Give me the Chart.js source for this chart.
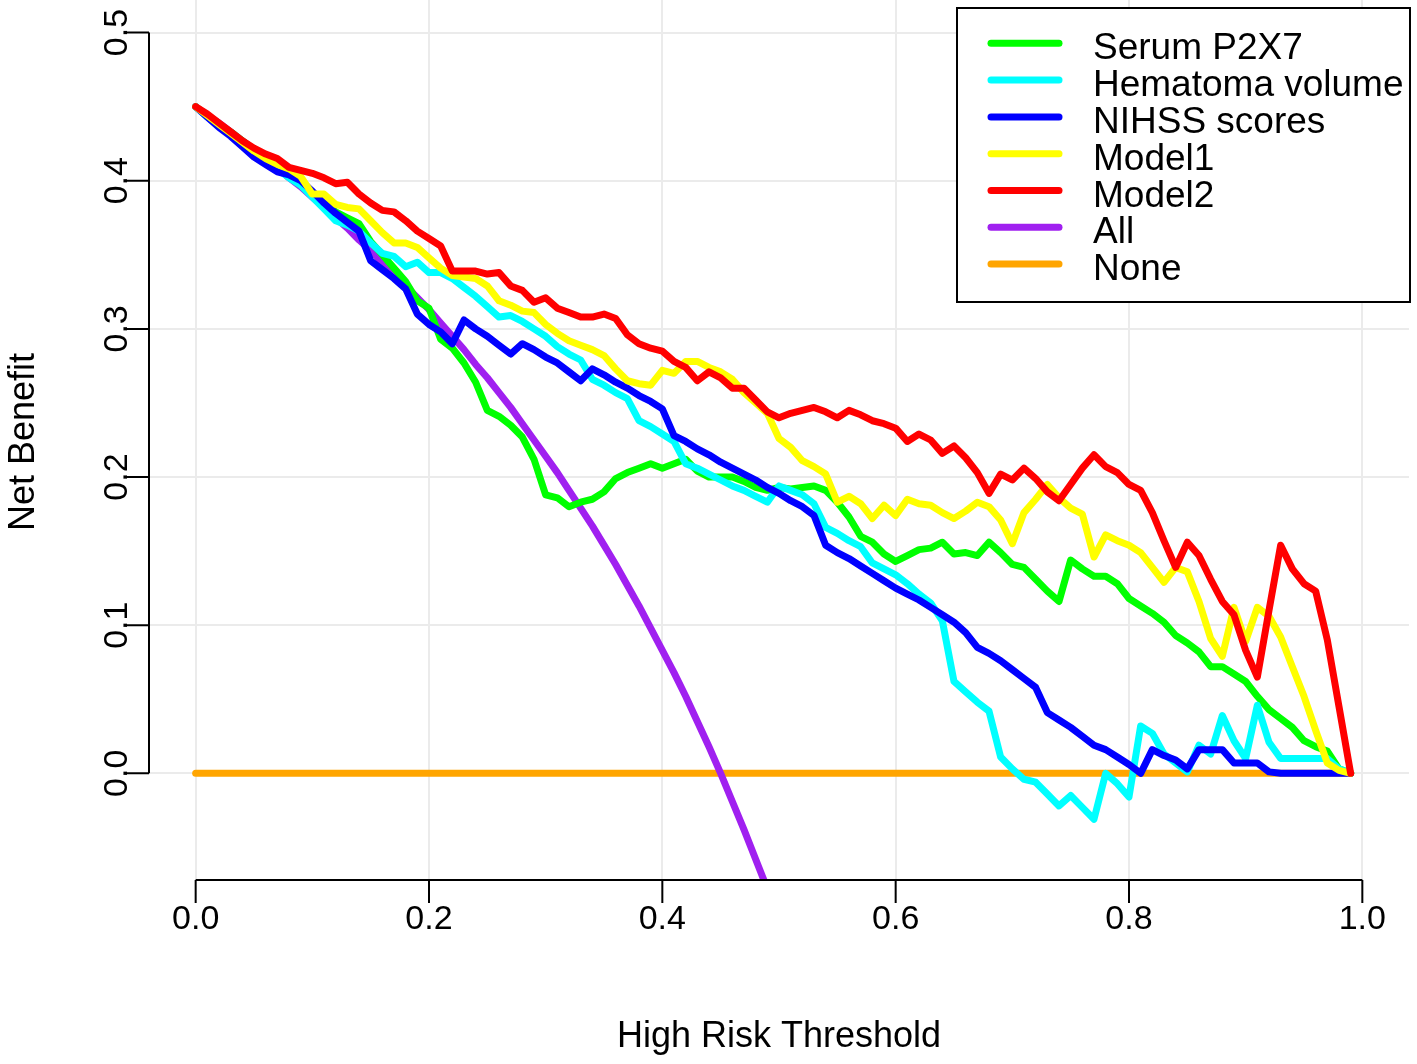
<!DOCTYPE html>
<html>
<head>
<meta charset="utf-8">
<title>Decision curve - Net Benefit</title>
<script src="https://cdn.jsdelivr.net/npm/chart.js@4.4.1/dist/chart.umd.min.js"></script>
<style>
    html, body { margin: 0; padding: 0; background: #ffffff; }
    #wrap { width: 1417px; height: 1064px; position: relative; }
</style>
</head>
<body>
<div id="wrap"><canvas id="dcaChart"></canvas></div>
<script>
// Threshold probabilities (x values of every curve)
const thresholds = [
    0.00, 0.01, 0.02, 0.03, 0.04, 0.05, 0.06, 0.07, 0.08, 0.09,
    0.10, 0.11, 0.12, 0.13, 0.14, 0.15, 0.16, 0.17, 0.18, 0.19,
    0.20, 0.21, 0.22, 0.23, 0.24, 0.25, 0.26, 0.27, 0.28, 0.29,
    0.30, 0.31, 0.32, 0.33, 0.34, 0.35, 0.36, 0.37, 0.38, 0.39,
    0.40, 0.41, 0.42, 0.43, 0.44, 0.45, 0.46, 0.47, 0.48, 0.49,
    0.50, 0.51, 0.52, 0.53, 0.54, 0.55, 0.56, 0.57, 0.58, 0.59,
    0.60, 0.61, 0.62, 0.63, 0.64, 0.65, 0.66, 0.67, 0.68, 0.69,
    0.70, 0.71, 0.72, 0.73, 0.74, 0.75, 0.76, 0.77, 0.78, 0.79,
    0.80, 0.81, 0.82, 0.83, 0.84, 0.85, 0.86, 0.87, 0.88, 0.89,
    0.90, 0.91, 0.92, 0.93, 0.94, 0.95, 0.96, 0.97, 0.98, 0.99
];

// Net benefit
const serumP2X7 = [
    0.450, 0.444, 0.438, 0.433, 0.427, 0.421, 0.415, 0.409, 0.403, 0.397,
    0.390, 0.385, 0.379, 0.375, 0.371, 0.359, 0.350, 0.341, 0.332, 0.319,
    0.314, 0.293, 0.287, 0.277, 0.264, 0.245, 0.241, 0.235, 0.227, 0.212,
    0.188, 0.186, 0.180, 0.183, 0.185, 0.190, 0.199, 0.203, 0.206, 0.209,
    0.206, 0.209, 0.212, 0.204, 0.200, 0.200, 0.200, 0.197, 0.193, 0.191,
    0.193, 0.192, 0.193, 0.194, 0.191, 0.183, 0.173, 0.160, 0.156, 0.148,
    0.143, 0.147, 0.151, 0.152, 0.156, 0.148, 0.149, 0.147, 0.156, 0.149,
    0.141, 0.139, 0.131, 0.123, 0.116, 0.144, 0.138, 0.133, 0.133, 0.128,
    0.118, 0.113, 0.108, 0.102, 0.093, 0.088, 0.082, 0.072, 0.072, 0.067,
    0.062, 0.052, 0.043, 0.037, 0.031, 0.022, 0.018, 0.015, 0.003, 0.000
];

const hematomaVolume = [
    0.450, 0.443, 0.437, 0.431, 0.425, 0.419, 0.413, 0.408, 0.402, 0.397,
    0.389, 0.381, 0.373, 0.370, 0.366, 0.358, 0.351, 0.349, 0.342, 0.345,
    0.338, 0.338, 0.334, 0.328, 0.322, 0.315, 0.308, 0.309, 0.305, 0.300,
    0.295, 0.288, 0.283, 0.279, 0.266, 0.262, 0.257, 0.253, 0.238, 0.234,
    0.229, 0.224, 0.209, 0.206, 0.202, 0.198, 0.194, 0.191, 0.187, 0.183,
    0.194, 0.191, 0.188, 0.182, 0.166, 0.162, 0.157, 0.153, 0.142, 0.138,
    0.134, 0.128, 0.121, 0.115, 0.103, 0.062, 0.055, 0.048, 0.042, 0.011,
    0.003, -0.004, -0.006, -0.014, -0.022, -0.015, -0.023, -0.031, 0.000, -0.007,
    -0.016, 0.032, 0.027, 0.013, 0.007, 0.001, 0.019, 0.013, 0.039, 0.022,
    0.010, 0.046, 0.021, 0.010, 0.010, 0.010, 0.010, 0.010, 0.003, 0.000
];

const nihssScores = [
    0.450, 0.443, 0.436, 0.430, 0.423, 0.416, 0.411, 0.406, 0.404, 0.400,
    0.393, 0.385, 0.378, 0.372, 0.366, 0.346, 0.340, 0.334, 0.327, 0.310,
    0.303, 0.298, 0.290, 0.306, 0.300, 0.295, 0.289, 0.283, 0.290, 0.286,
    0.281, 0.277, 0.271, 0.265, 0.273, 0.269, 0.264, 0.260, 0.255, 0.251,
    0.246, 0.228, 0.224, 0.219, 0.215, 0.210, 0.206, 0.202, 0.198, 0.193,
    0.189, 0.184, 0.180, 0.174, 0.154, 0.149, 0.145, 0.140, 0.135, 0.130,
    0.125, 0.121, 0.117, 0.112, 0.107, 0.102, 0.095, 0.085, 0.081, 0.076,
    0.070, 0.064, 0.058, 0.041, 0.036, 0.031, 0.025, 0.019, 0.016, 0.011,
    0.006, 0.000, 0.016, 0.012, 0.009, 0.003, 0.016, 0.016, 0.016, 0.007,
    0.007, 0.007, 0.001, 0.000, 0.000, 0.000, 0.000, 0.000, 0.000, 0.000
];

const model1 = [
    0.450, 0.444, 0.438, 0.432, 0.426, 0.420, 0.415, 0.411, 0.408, 0.403,
    0.391, 0.391, 0.384, 0.382, 0.381, 0.373, 0.365, 0.358, 0.358, 0.355,
    0.348, 0.341, 0.336, 0.335, 0.334, 0.329, 0.319, 0.316, 0.312, 0.311,
    0.303, 0.297, 0.292, 0.289, 0.286, 0.282, 0.273, 0.265, 0.263, 0.262,
    0.272, 0.270, 0.278, 0.278, 0.274, 0.271, 0.266, 0.257, 0.250, 0.243,
    0.226, 0.220, 0.211, 0.207, 0.202, 0.183, 0.187, 0.182, 0.172, 0.181,
    0.174, 0.185, 0.182, 0.181, 0.176, 0.172, 0.177, 0.183, 0.180, 0.171,
    0.155, 0.176, 0.185, 0.195, 0.186, 0.179, 0.175, 0.146, 0.161, 0.157,
    0.154, 0.149, 0.139, 0.129, 0.139, 0.136, 0.116, 0.091, 0.079, 0.112,
    0.089, 0.112, 0.106, 0.092, 0.072, 0.052, 0.029, 0.007, 0.002, 0.000
];

const model2 = [
    0.450, 0.445, 0.439, 0.433, 0.427, 0.422, 0.418, 0.415, 0.409, 0.407,
    0.405, 0.402, 0.398, 0.399, 0.391, 0.385, 0.380, 0.379, 0.373, 0.366,
    0.361, 0.356, 0.339, 0.339, 0.339, 0.337, 0.338, 0.329, 0.326, 0.318,
    0.321, 0.314, 0.311, 0.308, 0.308, 0.310, 0.307, 0.296, 0.290, 0.287,
    0.285, 0.278, 0.274, 0.265, 0.271, 0.267, 0.260, 0.260, 0.252, 0.244,
    0.240, 0.243, 0.245, 0.247, 0.244, 0.240, 0.245, 0.242, 0.238, 0.236,
    0.233, 0.224, 0.229, 0.225, 0.216, 0.221, 0.213, 0.203, 0.189, 0.202,
    0.198, 0.206, 0.199, 0.190, 0.184, 0.195, 0.206, 0.215, 0.207, 0.203,
    0.195, 0.191, 0.176, 0.157, 0.139, 0.156, 0.147, 0.131, 0.116, 0.107,
    0.083, 0.065, 0.110, 0.154, 0.138, 0.128, 0.123, 0.090, 0.045, 0.000
];

// Treat-all curve, thresholds 0.00 to 0.50 (runs off the bottom of the plot)
const treatAll = [
    0.450, 0.444, 0.439, 0.433, 0.427, 0.421, 0.415, 0.409, 0.402, 0.396,
    0.389, 0.382, 0.375, 0.368, 0.360, 0.353, 0.345, 0.337, 0.329, 0.321,
    0.313, 0.304, 0.295, 0.286, 0.276, 0.267, 0.257, 0.247, 0.236, 0.225,
    0.214, 0.203, 0.191, 0.179, 0.167, 0.154, 0.141, 0.127, 0.113, 0.098,
    0.083, 0.068, 0.052, 0.035, 0.018, 0.000, -0.019, -0.038, -0.058, -0.078,
    -0.100
];

// Treat-none curve
const treatNone = [
    0, 0, 0, 0, 0, 0, 0, 0, 0, 0,
    0, 0, 0, 0, 0, 0, 0, 0, 0, 0,
    0, 0, 0, 0, 0, 0, 0, 0, 0, 0,
    0, 0, 0, 0, 0, 0, 0, 0, 0, 0,
    0, 0, 0, 0, 0, 0, 0, 0, 0, 0,
    0, 0, 0, 0, 0, 0, 0, 0, 0, 0,
    0, 0, 0, 0, 0, 0, 0, 0, 0, 0,
    0, 0, 0, 0, 0, 0, 0, 0, 0, 0,
    0, 0, 0, 0, 0, 0, 0, 0, 0, 0,
    0, 0, 0, 0, 0, 0, 0, 0, 0, 0
];

// Axis ticks
const xTickValues = [0, 0.2, 0.4, 0.6, 0.8, 1.0];
const xTickLabels = ['0.0', '0.2', '0.4', '0.6', '0.8', '1.0'];
const yTickValues = [0, 0.1, 0.2, 0.3, 0.4, 0.5];
const yTickLabels = ['0.0', '0.1', '0.2', '0.3', '0.4', '0.5'];

const FONT = '"Liberation Sans", Arial, Helvetica, sans-serif';

// Pair each value list with the thresholds
function toPoints(values) {
    return values.map((v, i) => ({ x: thresholds[i], y: v }));
}

function curve(label, values, color, order) {
    return {
        label: label,
        data: toPoints(values),
        borderColor: color,
        backgroundColor: color,
        borderWidth: 7,
        borderCapStyle: 'round',
        borderJoinStyle: 'round',
        pointRadius: 0,
        tension: 0,
        fill: false,
        order: order
    };
}

// R-style axes, titles and boxed legend
const rStylePlot = {
    id: 'rStylePlot',
    beforeDraw(chart) {
        const ctx = chart.ctx;
        ctx.save();
        ctx.fillStyle = '#ffffff';
        ctx.fillRect(0, 0, chart.width, chart.height);
        ctx.restore();
    },
    afterDraw(chart) {
        const ctx = chart.ctx;
        const area = chart.chartArea;
        const xs = chart.scales.x;
        const ys = chart.scales.y;

        ctx.save();
        ctx.strokeStyle = '#000000';
        ctx.fillStyle = '#000000';
        ctx.lineWidth = 2;

        // x axis
        const axisY = area.bottom;
        ctx.beginPath();
        ctx.moveTo(xs.getPixelForValue(xTickValues[0]), axisY);
        ctx.lineTo(xs.getPixelForValue(xTickValues[xTickValues.length - 1]), axisY);
        xTickValues.forEach(v => {
            const px = xs.getPixelForValue(v);
            ctx.moveTo(px, axisY);
            ctx.lineTo(px, axisY + 23);
        });
        ctx.stroke();

        ctx.font = '34px ' + FONT;
        ctx.textAlign = 'center';
        ctx.textBaseline = 'alphabetic';
        xTickValues.forEach((v, i) => {
            ctx.fillText(xTickLabels[i], xs.getPixelForValue(v), axisY + 49);
        });

        // y axis
        const axisX = area.left;
        ctx.beginPath();
        ctx.moveTo(axisX, ys.getPixelForValue(yTickValues[0]));
        ctx.lineTo(axisX, ys.getPixelForValue(yTickValues[yTickValues.length - 1]));
        yTickValues.forEach(v => {
            const py = ys.getPixelForValue(v);
            ctx.moveTo(axisX, py);
            ctx.lineTo(axisX - 24, py);
        });
        ctx.stroke();

        yTickValues.forEach((v, i) => {
            ctx.save();
            ctx.translate(axisX - 22, ys.getPixelForValue(v));
            ctx.rotate(-Math.PI / 2);
            ctx.fillText(yTickLabels[i], 0, 0);
            ctx.restore();
        });

        // axis titles
        ctx.font = '36px ' + FONT;
        ctx.fillText('High Risk Threshold', (area.left + area.right) / 2, 1047);
        ctx.save();
        ctx.translate(34, (area.top + area.bottom) / 2 + 2);
        ctx.rotate(-Math.PI / 2);
        ctx.fillText('Net Benefit', 0, 0);
        ctx.restore();

        // legend box
        const box = { left: 957, top: 8, width: 453, height: 294 };
        ctx.fillStyle = '#ffffff';
        ctx.fillRect(box.left, box.top, box.width, box.height);
        ctx.strokeStyle = '#000000';
        ctx.lineWidth = 2;
        ctx.strokeRect(box.left, box.top, box.width, box.height);

        ctx.font = '37px ' + FONT;
        ctx.textAlign = 'left';
        chart.data.datasets.forEach((ds, i) => {
            const cy = 43.3 + i * 36.8;
            ctx.strokeStyle = ds.borderColor;
            ctx.lineWidth = 7;
            ctx.lineCap = 'round';
            ctx.beginPath();
            ctx.moveTo(991, cy);
            ctx.lineTo(1059, cy);
            ctx.stroke();
            ctx.fillStyle = '#000000';
            ctx.fillText(ds.label, 1093, cy + 16);
        });

        ctx.restore();
    }
};

document.addEventListener('DOMContentLoaded', function() {
    const ctx = document.getElementById('dcaChart');

    new Chart(ctx, {
        type: 'line',
        data: {
            datasets: [
                curve('Serum P2X7', serumP2X7, '#00FF00', 5),
                curve('Hematoma volume', hematomaVolume, '#00FFFF', 4),
                curve('NIHSS scores', nihssScores, '#0000FF', 3),
                curve('Model1', model1, '#FFFF00', 2),
                curve('Model2', model2, '#FF0000', 1),
                curve('All', treatAll, '#A020F0', 6),
                curve('None', treatNone, '#FFA500', 7)
            ]
        },
        options: {
            responsive: true,
            maintainAspectRatio: false,
            animation: false,
            devicePixelRatio: 1,
            layout: {
                padding: { left: 149, right: 8, top: 0, bottom: 184 }
            },
            plugins: {
                legend: { display: false },
                tooltip: { enabled: false }
            },
            scales: {
                x: {
                    type: 'linear',
                    min: -0.04,
                    max: 1.04,
                    afterBuildTicks: scale => {
                        scale.ticks = xTickValues.map(v => ({ value: v }));
                    },
                    ticks: { display: false },
                    grid: { color: '#EBEBEB', lineWidth: 2, drawTicks: false },
                    border: { display: false }
                },
                y: {
                    type: 'linear',
                    min: -0.072,
                    max: 0.522,
                    afterBuildTicks: scale => {
                        scale.ticks = yTickValues.map(v => ({ value: v }));
                    },
                    ticks: { display: false },
                    grid: { color: '#EBEBEB', lineWidth: 2, drawTicks: false },
                    border: { display: false }
                }
            }
        },
        plugins: [rStylePlot]
    });
});
</script>
</body>
</html>
